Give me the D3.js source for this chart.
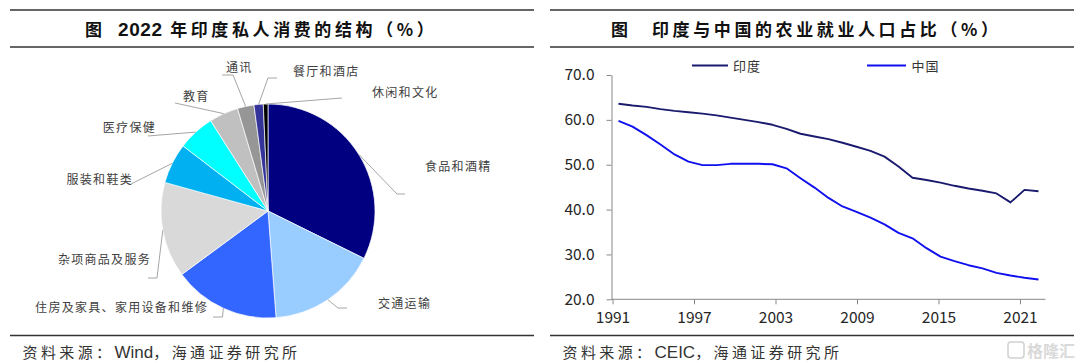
<!DOCTYPE html>
<html><head><meta charset="utf-8">
<script src="https://cdn.jsdelivr.net/npm/d3@7/dist/d3.min.js"></script>
<style>
html,body{margin:0;padding:0;background:#fff;}
svg{display:block;}
text{font-family:"Noto Sans CJK SC","Liberation Sans",sans-serif;}
</style></head><body>
<svg id="c" width="1080" height="363"></svg>
<script>
// ---------- data ----------
const pieCategories = ["食品和酒精","交通运输","住房及家具、家用设备和维修","杂项商品及服务","服装和鞋类","医疗保健","教育","通讯","餐厅和酒店","休闲和文化"];
const pieValues = [32.3,16.5,16.1,14.4,6.1,5.6,4.4,2.5,1.4,0.7];

const years = [1991,1992,1993,1994,1995,1996,1997,1998,1999,2000,2001,2002,2003,2004,2005,2006,2007,2008,2009,2010,2011,2012,2013,2014,2015,2016,2017,2018,2019,2020,2021];
const indiaValues = [63.6,63.2,62.9,62.4,62.0,61.7,61.4,61.0,60.5,60.0,59.5,58.9,58.0,56.9,56.3,55.7,54.9,54.0,53.1,51.8,49.6,47.1,46.6,46.0,45.3,44.7,44.2,43.6,41.6,44.4,44.1];
const chinaValues = [59.8,58.5,56.6,54.5,52.3,50.7,49.9,49.9,50.2,50.2,50.2,50.1,49.2,47.0,44.9,42.6,40.7,39.5,38.2,36.7,34.8,33.6,31.4,29.5,28.5,27.6,26.9,25.9,25.3,24.8,24.4];
const seriesNames = ["印度","中国"];
const yTicks = [20,30,40,50,60,70];
const xTickLabels = [1991,1997,2003,2009,2015,2021];

// ---------- layout / styles ----------
const pieColors = ["#000080","#99CCFF","#3366FF","#D9D9D9","#00B0F0","#00FFFF","#C0C0C0","#969696","#333399","#000000"];
const labelLayout = [
  {pts:[[397,194],[405,194]], tx:425, ty:166, anchor:"start"},
  {pts:[[338,308],[347,308]], tx:378, ty:303, anchor:"start"},
  {pts:[[222.5,317],[213,317]], tx:208, ty:307, anchor:"end"},
  {pts:[[157,278],[148,278]], tx:151, ty:259, anchor:"end"},
  {pts:[[131,184]], tx:133, ty:179, anchor:"end"},
  {pts:[[148,136]], tx:156, ty:127, anchor:"end"},
  {pts:[[175,103]], tx:183, ty:96, anchor:"start"},
  {pts:[[233,75],[222,75]], tx:226, ty:67, anchor:"start"},
  {pts:[[268,78],[277,78]], tx:293, ty:71, anchor:"start"},
  {pts:[[342,98]], tx:372, ty:92, anchor:"start"}
];

const svg = d3.select("#c");
const LATIN = "Liberation Sans, Arial, sans-serif";

// ---------- frame: titles, rules, sources ----------
function panelFrame(x0, x1, titleX, restX, titleParts, sourceParts){
  const g = svg.append("g");
  [10, 47, 335.5].forEach(yy => g.append("line").attr("x1",x0).attr("x2",x1).attr("y1",yy).attr("y2",yy)
    .attr("stroke","#333").attr("stroke-width",1.4));
  g.append("text").attr("x",titleX).attr("y",35.5).attr("font-size",17).attr("font-weight",700)
    .attr("fill","#111").text("图");
  const t = g.append("text").attr("x",restX).attr("y",35.5).attr("font-weight",700).attr("fill","#111");
  titleParts.forEach(p => t.append("tspan").attr("font-family",p.latin?LATIN:null)
    .attr("font-size",p.latin?19:17).attr("letter-spacing",p.latin?0.6:3.6).text(p.s));
  const s = g.append("text").attr("x",x0+12.5).attr("y",358).attr("fill","#333");
  sourceParts.forEach(p => s.append("tspan").attr("font-family",p.latin?LATIN:null)
    .attr("font-size",p.latin?17:15).attr("letter-spacing",p.latin?0:3.4).text(p.s));
}
panelFrame(10, 534, 85, 118,
  [{s:"2022",latin:true},{s:" 年印度私人消费的结构（%）"}],
  [{s:"资料来源："},{s:"Wind",latin:true},{s:"，海通证券研究所"}]);
panelFrame(550, 1074, 611, 652,
  [{s:"印度与中国的农业就业人口占比（%）"}],
  [{s:"资料来源："},{s:"CEIC",latin:true},{s:"，海通证券研究所"}]);

// ---------- pie ----------
const cx = 268, cy = 211, R = 107;
const pie = d3.pie().sort(null).value(d => d)(pieValues);
const arc = d3.arc().innerRadius(0).outerRadius(R);
const edge = d3.arc().innerRadius(R).outerRadius(R);
const gp = svg.append("g").attr("transform",`translate(${cx},${cy})`);
gp.selectAll("path").data(pie).join("path")
  .attr("d", arc).attr("fill",(d,i)=>pieColors[i])
  .attr("stroke","#fff").attr("stroke-width",0.7);

const gl = svg.append("g");
pie.forEach((d,i) => {
  const c = edge.centroid(d);
  const start = [cx + c[0], cy + c[1]];
  const L = labelLayout[i];
  gl.append("path").attr("d", d3.line()([start, ...L.pts]))
    .attr("fill","none").attr("stroke","#A6A6A6").attr("stroke-width",1);
  gl.append("text").attr("x",L.tx).attr("y",L.ty+4.6).attr("text-anchor",L.anchor)
    .attr("font-size",12).attr("letter-spacing",1.3).attr("fill","#404040").text(pieCategories[i]);
});

// ---------- line chart ----------
const x = d3.scaleBand().domain(years).range([611.5, 1045.5]);
const y = d3.scaleLinear().domain([20,70]).range([299.3, 75]);
const gc = svg.append("g");

const yAxis = gc.append("g").attr("transform","translate(611.5,0)")
  .call(d3.axisLeft(y).tickValues(yTicks).tickFormat(d3.format(".1f")).tickSize(5).tickSizeOuter(0).tickPadding(12));
yAxis.selectAll("path,line").attr("stroke","#888");
yAxis.selectAll("text").attr("font-family",LATIN).attr("font-size",15.5).attr("fill","#262626");

// x axis labels/ticks
const xl = d3.scaleLinear().domain([1991, 2021]).range([612.5, 1020]);
const xAxis = gc.append("g").attr("transform","translate(0,299.3)")
  .call(d3.axisBottom(xl).tickValues(xTickLabels).tickFormat(d3.format("d")).tickSize(5).tickSizeOuter(0).tickPadding(8));
xAxis.select(".domain").attr("d", `M611.5,0H1045.5`);
xAxis.selectAll("path,line").attr("stroke","#888");
xAxis.selectAll("text").attr("font-family",LATIN).attr("font-size",15.5).attr("fill","#262626");

const line = d3.line().x((d,i)=> x(years[i]) + x.bandwidth()/2).y(d => y(d));
const lineColors = ["#1A1A6E","#1010EE"];
[indiaValues, chinaValues].forEach((vals,k) => {
  gc.append("path").attr("d", line(vals)).attr("fill","none")
    .attr("stroke", lineColors[k]).attr("stroke-width",1.9).attr("stroke-linejoin","round");
});

// legend
const legendPos = [[692, 728, 733], [867, 906, 911.5]];
seriesNames.forEach((n,k) => {
  const p = legendPos[k];
  gc.append("line").attr("x1",p[0]).attr("x2",p[1]).attr("y1",65.5).attr("y2",65.5)
    .attr("stroke",lineColors[k]).attr("stroke-width",1.9);
  gc.append("text").attr("x",p[2]).attr("y",71).attr("font-size",13).attr("letter-spacing",1)
    .attr("fill","#333").text(n);
});

// watermark
const wm = svg.append("g").attr("opacity",0.55);
wm.append("rect").attr("x",1008).attr("y",342).attr("width",16).attr("height",16).attr("rx",3)
  .attr("fill","none").attr("stroke","#aaa").attr("stroke-width",1.5);
wm.append("text").attr("x",1027).attr("y",357).attr("font-size",16).attr("font-weight",700)
  .attr("fill","#bbb").text("格隆汇");
</script>
</body></html>
